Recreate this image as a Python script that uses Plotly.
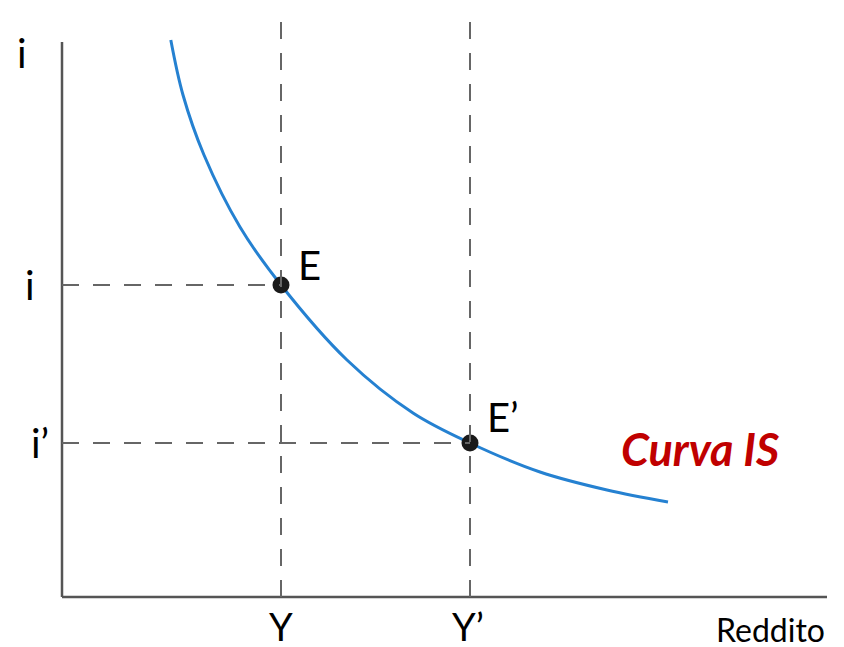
import plotly.graph_objects as go

# IS curve points (income Y, interest rate i)
curve_y = [2.72, 3.025, 3.55, 4.45, 5.475, 7.125, 8.775, 10.20, 11.95, 13.625, 15.15]
curve_i = [13.925, 12.55, 11.05, 9.25, 7.80, 5.925, 4.60, 3.85, 3.125, 2.675, 2.375]

# equilibrium points
eq_names = ["E", "E\u2019"]
eq_Y = [5.475, 10.20]
eq_i = [7.80, 3.85]

tick_Y = ["Y", "Y\u2019"]
tick_i = ["i", "i\u2019"]

X_MAX = 19.125
Y_MAX = 13.875
TOP = 14.8

FONT = "Lato"
fig = go.Figure()

# axes
fig.add_shape(type="line", x0=0, x1=0, y0=0, y1=Y_MAX,
              line=dict(color="#555555", width=2.5))
fig.add_shape(type="line", x0=0, x1=X_MAX, y0=0, y1=0,
              line=dict(color="#555555", width=2.5))

dash = "17px,14px"
for yv, iv in zip(eq_Y, eq_i):
    fig.add_shape(type="line", x0=yv, x1=yv, y0=0, y1=TOP,
                  line=dict(color="#666666", width=2, dash=dash))
    fig.add_shape(type="line", x0=0, x1=yv, y0=iv, y1=iv,
                  line=dict(color="#666666", width=2, dash=dash))

fig.add_trace(go.Scatter(x=curve_y, y=curve_i, mode="lines",
                         line=dict(color="#2581d1", width=3, shape="spline", smoothing=1.0),
                         hoverinfo="skip", showlegend=False))
fig.add_trace(go.Scatter(x=eq_Y, y=eq_i, mode="markers",
                         marker=dict(color="#1a1a1a", size=17),
                         hoverinfo="skip", showlegend=False))

big = dict(family=FONT, size=40, color="black")
# axis title i
fig.add_annotation(x=-1.0, y=13.6, text="i", showarrow=False, font=big)
# tick labels on i axis
for lab, iv, dx in zip(tick_i, eq_i, [-0.8, -0.55]):
    fig.add_annotation(x=dx, y=iv, text=lab, showarrow=False, font=big)
# tick labels on Y axis
for lab, yv, dx in zip(tick_Y, eq_Y, [0, -0.05]):
    fig.add_annotation(x=yv + dx, y=-0.72, text=lab, showarrow=False,
                       font=dict(family=FONT, size=38, color="black"))
# point labels
for lab, yv, iv, dx, dy in zip(eq_names, eq_Y, eq_i, [0.72, 0.82], [0.5, 0.65]):
    fig.add_annotation(x=yv + dx, y=iv + dy, text=lab, showarrow=False, font=big)

fig.add_annotation(x=17.7, y=-0.8, text="Reddito", showarrow=False,
                   font=dict(family=FONT, size=32, color="black"))
fig.add_annotation(x=15.95, y=3.7, text="<b><i>Curva IS</i></b>", showarrow=False,
                   font=dict(family=FONT, size=45, color="#c00000"))

fig.update_layout(
    width=836, height=639,
    margin=dict(l=0, r=0, t=0, b=0),
    paper_bgcolor="white", plot_bgcolor="white",
    xaxis=dict(range=[-1.35, 19.55], visible=False, fixedrange=True),
    yaxis=dict(range=[-1.25, 14.725], visible=False, fixedrange=True),
    showlegend=False,
)

fig.write_html("out.html")
